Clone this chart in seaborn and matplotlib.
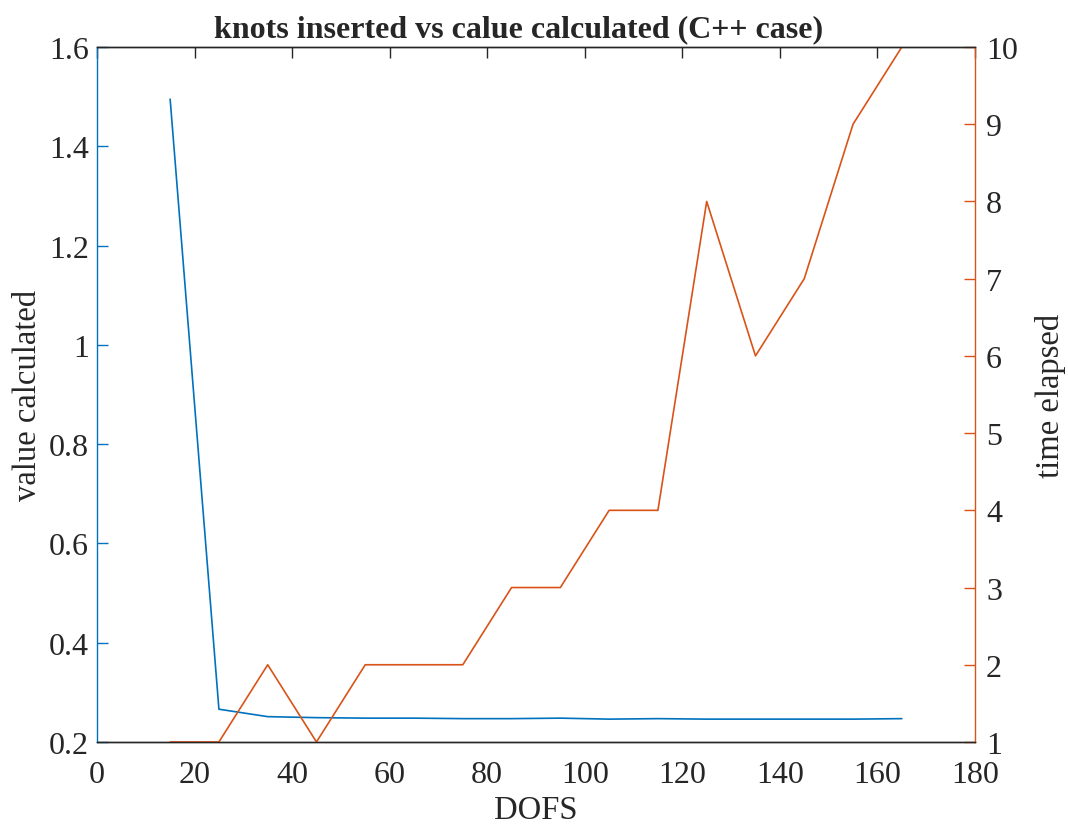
import matplotlib
matplotlib.use("Agg")
import matplotlib.pyplot as plt
import seaborn as sns
import pandas as pd

dofs = [15, 25, 35, 45, 55, 65, 75, 85, 95, 105, 115, 125, 135, 145, 155, 165]
value_calculated = [1.495, 0.266, 0.251, 0.249, 0.248, 0.248, 0.247, 0.247,
                    0.248, 0.246, 0.247, 0.246, 0.246, 0.246, 0.246, 0.247]
time_elapsed = [1, 1, 2, 1, 2, 2, 2, 3, 3, 4, 4, 8, 6, 7, 9, 10]

x_ticks = [0, 20, 40, 60, 80, 100, 120, 140, 160, 180]
left_ticks = [0.2, 0.4, 0.6, 0.8, 1.0, 1.2, 1.4, 1.6]
left_labels = ["0.2", "0.4", "0.6", "0.8", "1", "1.2", "1.4", "1.6"]
right_ticks = [1, 2, 3, 4, 5, 6, 7, 8, 9, 10]

df = pd.DataFrame({"DOFS": dofs, "value": value_calculated, "time": time_elapsed})

sns.set_style("white")
plt.rcParams["font.family"] = ["Liberation Serif", "DejaVu Serif"]

blue = "#0072BD"
orange = "#D95319"
dark = "#262626"

fig = plt.figure(figsize=(10.68, 8.28), dpi=100)
ax = fig.add_axes([0.0908, 0.1027, 0.8221, 0.8393])
ax2 = ax.twinx()

sns.lineplot(data=df, x="DOFS", y="value", ax=ax, color=blue, linewidth=1.2)
sns.lineplot(data=df, x="DOFS", y="time", ax=ax2, color=orange, linewidth=1.2)

ax.set_xlim(0, 180)
ax.set_ylim(0.2, 1.6)
ax2.set_ylim(1, 10)
ax.set_xticks(x_ticks)
ax.set_yticks(left_ticks)
ax.set_yticklabels(left_labels)
ax2.set_yticks(right_ticks)

ts = 23
ax.tick_params(axis="x", direction="in", length=8, width=1, color=dark, labelsize=ts, labelcolor=dark, pad=13, top=True)
ax.tick_params(axis="y", direction="in", length=8, width=1, color=blue, labelsize=ts, labelcolor=dark, pad=6)
ax2.tick_params(axis="y", direction="in", length=8, width=1, color=orange, labelsize=ts, labelcolor=dark, pad=8)

for a in (ax, ax2):
    a.spines["top"].set_color(dark)
    a.spines["bottom"].set_color(dark)
    a.spines["left"].set_color(blue)
    a.spines["right"].set_color(orange)
    for s in a.spines.values():
        s.set_linewidth(1)
        s.set_visible(True)
ax.spines["right"].set_visible(False)
ax2.spines["left"].set_visible(False)

ax.set_xlabel("DOFS", fontsize=23.5, color=dark, labelpad=4)
ax.set_ylabel("value calculated", fontsize=23.5, color=dark, labelpad=4)
ax2.set_ylabel("time elapsed", fontsize=23.5, color=dark, labelpad=12)
ax.set_title("knots inserted vs calue calculated (C++ case)", fontsize=23, fontweight="bold",
             color=dark, pad=8, x=0.48)

fig.savefig("out.png", dpi=100)
